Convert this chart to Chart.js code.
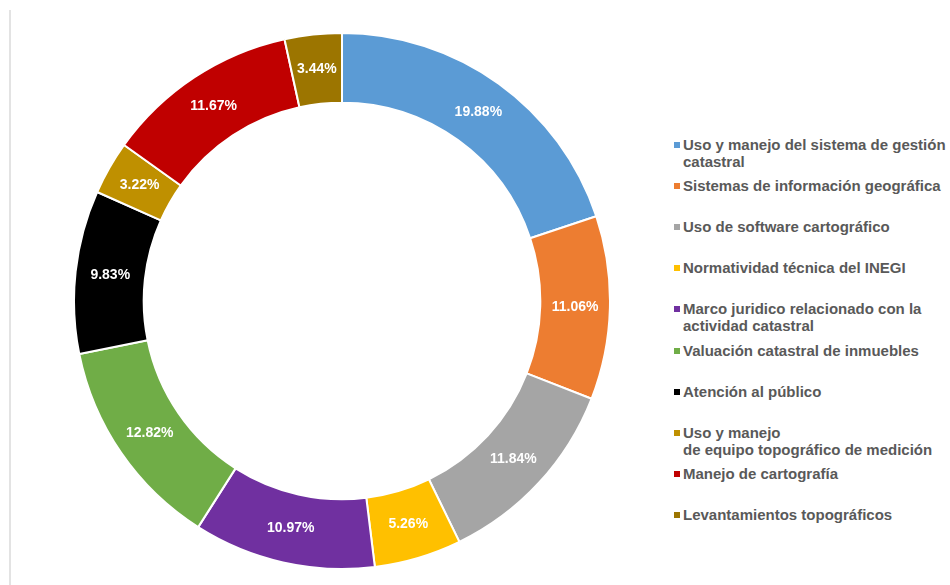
<!DOCTYPE html>
<html lang="es">
<head>
<meta charset="utf-8">
<title>Temas de capacitación catastral</title>
<script src="https://cdn.jsdelivr.net/npm/chart.js@4.4.1/dist/chart.umd.min.js"></script>
<style>
  html, body { margin: 0; padding: 0; background: #fff; }
  body { width: 950px; height: 585px; position: relative; overflow: hidden; font-family: "Liberation Sans", Arial, sans-serif; }
  .edge { position: absolute; left: 9px; top: 10px; bottom: 0; width: 2px; background: #e3e3e3; }
  .chart-box { position: absolute; left: 72px; top: 31px; width: 540px; height: 540px; }
  .legend { position: absolute; left: 673px; top: 0; }
  .legend-item { position: absolute; left: 0; white-space: nowrap; color: #595959; font-size: 15px; font-weight: bold; line-height: 17px; }
  .legend-item .box { position: absolute; left: 1px; top: 6px; width: 6px; height: 6px; }
  .legend-item .txt { padding-left: 10px; }
</style>
</head>
<body>
<div class="edge"></div>
<div class="chart-box"><canvas id="dona"></canvas></div>
<div class="legend" id="legend"></div>

<script>
// --- Datos ---
const temas = [
  'Uso y manejo del sistema de gestión\ncatastral',
  'Sistemas de información geográfica',
  'Uso de software cartográfico',
  'Normatividad técnica del INEGI',
  'Marco juridico relacionado con la\nactividad catastral',
  'Valuación catastral de inmuebles',
  'Atención al público',
  'Uso y manejo\nde equipo topográfico de medición',
  'Manejo de cartografía',
  'Levantamientos topográficos'
];
const porcentajes = [19.88, 11.06, 11.84, 5.26, 10.97, 12.82, 9.83, 3.22, 11.67, 3.44];
const colores = ['#5B9BD5', '#ED7D31', '#A5A5A5', '#FFC000', '#7030A0', '#70AD47', '#000000', '#BF9000', '#C00000', '#9C7500'];

// --- Etiquetas de porcentaje dentro de cada segmento ---
const etiquetasPlugin = {
  id: 'etiquetas',
  afterDatasetsDraw(chart) {
    const ctx = chart.ctx;
    const meta = chart.getDatasetMeta(0);
    ctx.save();
    ctx.fillStyle = '#ffffff';
    ctx.font = 'bold 14px "Liberation Sans", Arial, sans-serif';
    ctx.textAlign = 'center';
    ctx.textBaseline = 'middle';
    meta.data.forEach((arc, i) => {
      const p = arc.tooltipPosition();
      ctx.fillText(porcentajes[i].toFixed(2) + '%', p.x, p.y);
    });
    ctx.restore();
  }
};

new Chart(document.getElementById('dona'), {
  type: 'doughnut',
  data: {
    labels: temas.map(t => t.replace('\n', ' ')),
    datasets: [{
      data: porcentajes,
      backgroundColor: colores,
      borderColor: '#ffffff',
      borderWidth: 2,
      hoverOffset: 0
    }]
  },
  options: {
    responsive: true,
    maintainAspectRatio: false,
    animation: false,
    radius: 268,
    cutout: '74%',
    plugins: {
      legend: { display: false },
      tooltip: { enabled: false }
    }
  },
  plugins: [etiquetasPlugin]
});

// --- Leyenda ---
const legend = document.getElementById('legend');
temas.forEach((t, i) => {
  const item = document.createElement('div');
  item.className = 'legend-item';
  item.style.top = (135.5 + i * 41.2) + 'px';
  const box = document.createElement('span');
  box.className = 'box';
  box.style.background = colores[i];
  const txt = document.createElement('div');
  txt.className = 'txt';
  txt.innerHTML = t.split('\n').join('<br>');
  item.appendChild(box);
  item.appendChild(txt);
  legend.appendChild(item);
});
</script>
</body>
</html>
